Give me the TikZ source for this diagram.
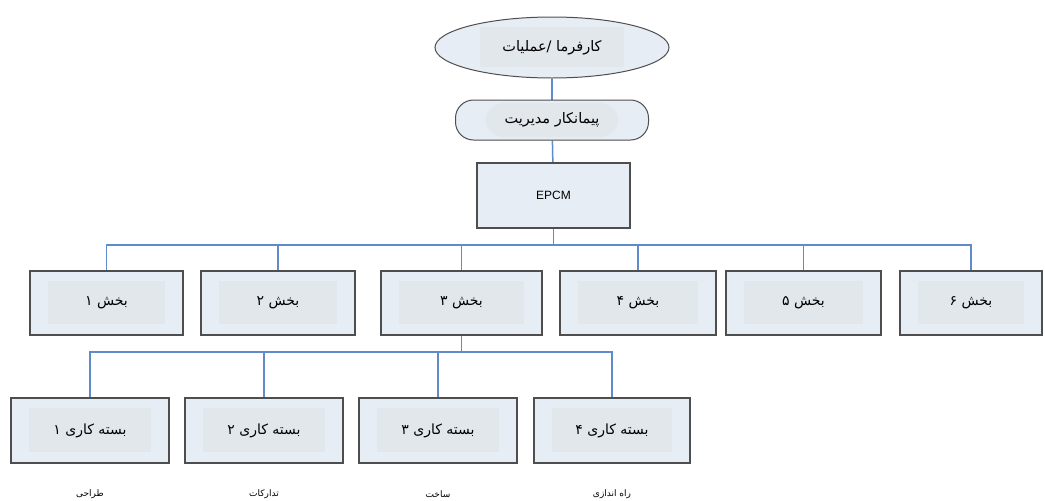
\documentclass[tikz,border=0pt]{standalone}
\usepackage{fontspec}
\setmainfont{Liberation Sans}
\newfontfamily\fa[Script=Arabic]{DejaVu Sans}
\TeXXeTstate=1
\usetikzlibrary{shapes.geometric,backgrounds}
\definecolor{boxfill}{HTML}{E7EDF5}
\definecolor{innerfill}{HTML}{E2E7EC}
\definecolor{boxline}{HTML}{4E4E4E}
\definecolor{connblue}{HTML}{5F8BCB}
\tikzset{
  x=1pt, y=-1pt,
  conn/.style={draw=connblue, line width=1.5pt},
  inner/.style={path picture={\fill[innerfill]
      ([shift={(#1,-10pt)}]path picture bounding box.north west) rectangle
      ([shift={(-#1,11pt)}]path picture bounding box.south east);}},
  plainbox/.style={draw=boxline, fill=boxfill, line width=1.8pt, rectangle,
      minimum height=64pt, inner sep=0pt},
  unit/.style={plainbox, font=\fa\fontsize{14}{16}\selectfont, inner=18pt},
  lbl/.style={font=\fa\fontsize{9}{11}\selectfont, inner sep=0pt}
}
\begin{document}
\begin{tikzpicture}
\useasboundingbox (0,0) rectangle (1045,501);
% top
\node[ellipse, draw=boxline, fill=boxfill, line width=1pt, minimum width=234pt, minimum height=61pt, inner sep=0pt,
      font=\fa\fontsize{14.5}{17}\selectfont, inner=45pt] (top) at (552,47.5) {\beginR کارفرما /عملیات\endR};
\node[draw=boxline, fill=boxfill, line width=1pt, rounded corners=18pt, minimum width=193pt, minimum height=40pt, inner sep=0pt,
      font=\fa\fontsize{14.5}{17}\selectfont, path picture={\fill[innerfill]
      ([shift={(30pt,-3pt)}]path picture bounding box.north west) rectangle
      ([shift={(-30pt,3pt)}]path picture bounding box.south east);}] (pm) at (552,120) {\beginR پیمانکار مدیریت\endR};
\node[plainbox, minimum width=153pt, minimum height=65pt, font=\fontsize{12}{14}\selectfont] (epcm) at (553.5,195.5) {EPCM};
% level 2
\node[unit, minimum width=153pt] (s1) at (106.5,303) {\beginR بخش ۱\endR};
\node[unit, minimum width=154pt] (s2) at (278,303) {\beginR بخش ۲\endR};
\node[unit, minimum width=161pt] (s3) at (461.5,303) {\beginR بخش ۳\endR};
\node[unit, minimum width=156pt] (s4) at (638,303) {\beginR بخش ۴\endR};
\node[unit, minimum width=155pt] (s5) at (803.5,303) {\beginR بخش ۵\endR};
\node[unit, minimum width=142pt] (s6) at (971,303) {\beginR بخش ۶\endR};
% level 3
\node[unit, minimum width=158pt, minimum height=65pt] (w1) at (90,430.5) {\beginR بسته کاری ۱\endR};
\node[unit, minimum width=158pt, minimum height=65pt] (w2) at (264,430.5) {\beginR بسته کاری ۲\endR};
\node[unit, minimum width=158pt, minimum height=65pt] (w3) at (438,430.5) {\beginR بسته کاری ۳\endR};
\node[unit, minimum width=156pt, minimum height=65pt] (w4) at (612,430.5) {\beginR بسته کاری ۴\endR};
% labels
\node[lbl] (l1) at (90,494) {\beginR طراحی\endR};
\node[lbl] (l2) at (264,494) {\beginR تدارکات\endR};
\node[lbl] (l3) at (438,494) {\beginR ساخت\endR};
\node[lbl] (l4) at (612,494) {\beginR راه اندازی\endR};
% connectors
\begin{scope}[on background layer]
\draw[conn] (top) -- (pm);
\draw[conn] (pm) -- (epcm);
\coordinate (bus) at ([yshift=-16pt]epcm.south);
\draw[conn] (epcm.south) -- (bus);
\foreach \s in {s1,s2,s3,s4,s5,s6} { \draw[conn] (\s.north) |- (bus); }
\coordinate (bus2) at ([yshift=-16pt]s3.south);
\draw[conn] (s3.south) -- (bus2);
\foreach \w in {w1,w2,w3,w4} { \draw[conn] (\w.north) |- (bus2); }
\end{scope}
\end{tikzpicture}
\end{document}
